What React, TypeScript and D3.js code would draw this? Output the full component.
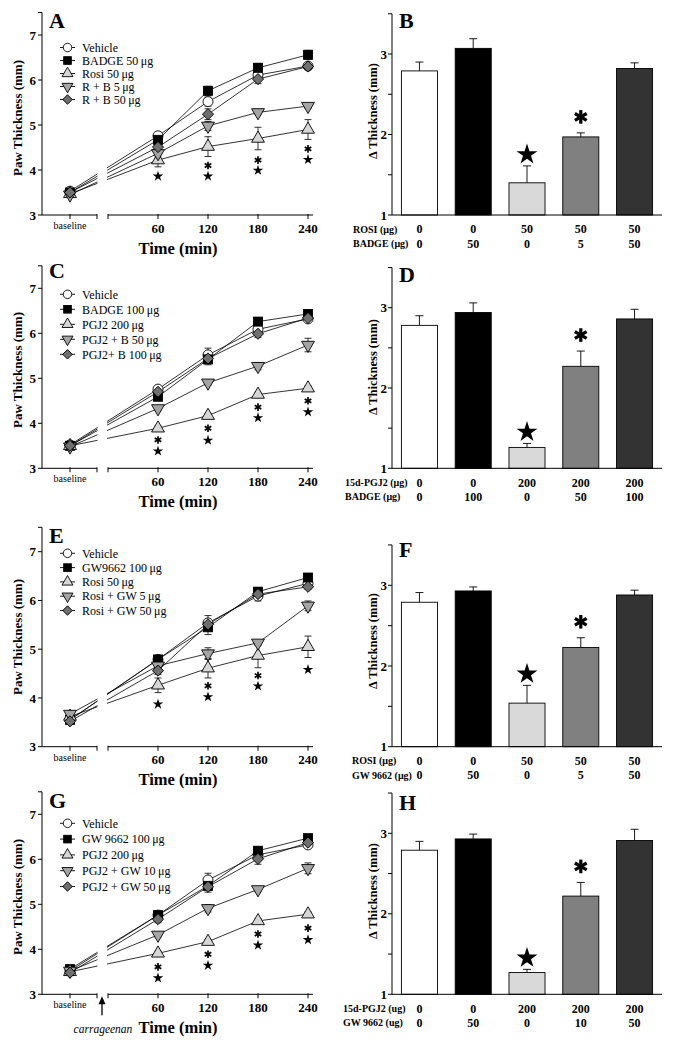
import React from 'react';
import * as d3 from 'd3';

const FONT = '"Liberation Serif", "Times New Roman", Times, serif';

// ---------- shared axes ----------
const timeTicks = [60, 120, 180, 240];
const lineYTicks = [3, 4, 5, 6, 7];
const barYTicks = [1, 2, 3];
const barMinorTicks = [1.5, 2.5, 3.5];

// ---------- Panel A ----------
const A_legend = ['Vehicle', 'BADGE 50\u2009μg', 'Rosi 50\u2009μg', 'R + B 5\u2009μg', 'R + B 50\u2009μg'];
const A_vehicle = [3.53, 4.76, 5.52, 6.11, 6.31];
const A_vehicleErr = [0.04, 0.05, 0.1, 0.1, 0.05];
const A_badge = [3.5, 4.67, 5.76, 6.27, 6.56];
const A_badgeErr = [0.04, 0.08, 0.1, 0.1, 0.1];
const A_rosi = [3.47, 4.22, 4.52, 4.7, 4.9];
const A_rosiErr = [0.04, 0.15, 0.22, 0.25, 0.22];
const A_rb5 = [3.45, 4.37, 4.98, 5.28, 5.42];
const A_rb5Err = [0.04, 0.08, 0.1, 0.05, 0.05];
const A_rb50 = [3.5, 4.51, 5.24, 6.02, 6.3];
const A_rb50Err = [0.04, 0.08, 0.12, 0.1, 0.05];
const A_asterisk = [null, 4.1, 4.22, 4.47];
const A_star = [3.87, 3.87, 4.0, 4.24];

// ---------- Panel C ----------
const C_legend = ['Vehicle', 'BADGE 100\u2009μg', 'PGJ2 200\u2009μg', 'PGJ2 + B 50\u2009μg', 'PGJ2+ B 100\u2009μg'];
const C_vehicle = [3.52, 4.76, 5.52, 6.09, 6.32];
const C_vehicleErr = [0.04, 0.05, 0.15, 0.1, 0.05];
const C_badge = [3.5, 4.59, 5.42, 6.26, 6.43];
const C_badgeErr = [0.04, 0.05, 0.12, 0.08, 0.05];
const C_pgj2 = [3.5, 3.89, 4.17, 4.64, 4.78];
const C_pgj2Err = [0.04, 0.05, 0.05, 0.05, 0.05];
const C_pb50 = [3.48, 4.33, 4.9, 5.27, 5.74];
const C_pb50Err = [0.04, 0.05, 0.05, 0.08, 0.15];
const C_pb100 = [3.5, 4.7, 5.44, 5.99, 6.34];
const C_pb100Err = [0.04, 0.05, 0.1, 0.08, 0.05];
const C_asterisk = [3.63, 3.89, 4.36, 4.5];
const C_star = [3.39, 3.63, 4.13, 4.26];

// ---------- Panel E ----------
const E_legend = ['Vehicle', 'GW9662 100\u2009μg', 'Rosi 50\u2009μg', 'Rosi + GW 5\u2009μg', 'Rosi + GW 50\u2009μg'];
const E_vehicle = [3.55, 4.79, 5.54, 6.09, 6.35];
const E_vehicleErr = [0.05, 0.05, 0.15, 0.1, 0.05];
const E_gw = [3.55, 4.79, 5.45, 6.18, 6.47];
const E_gwErr = [0.05, 0.05, 0.15, 0.08, 0.05];
const E_rosi = [3.62, 4.26, 4.61, 4.87, 5.05];
const E_rosiErr = [0.05, 0.15, 0.2, 0.25, 0.22];
const E_rg5 = [3.67, 4.66, 4.91, 5.13, 5.89];
const E_rg5Err = [0.05, 0.08, 0.12, 0.05, 0.1];
const E_rg50 = [3.52, 4.56, 5.51, 6.13, 6.28];
const E_rg50Err = [0.05, 0.08, 0.1, 0.1, 0.05];
const E_asterisk = [null, 4.25, 4.46, null];
const E_star = [3.88, 4.03, 4.25, 4.59];

// ---------- Panel G ----------
const G_legend = ['Vehicle', 'GW 9662  100\u2009μg', 'PGJ2  200\u2009μg', 'PGJ2 + GW  10\u2009μg', 'PGJ2 + GW 50\u2009μg'];
const G_vehicle = [3.52, 4.76, 5.54, 6.1, 6.32];
const G_vehicleErr = [0.05, 0.05, 0.15, 0.08, 0.05];
const G_gw = [3.56, 4.76, 5.41, 6.19, 6.47];
const G_gwErr = [0.05, 0.05, 0.1, 0.08, 0.05];
const G_pgj2 = [3.5, 3.91, 4.17, 4.63, 4.78];
const G_pgj2Err = [0.05, 0.05, 0.05, 0.05, 0.05];
const G_pg10 = [3.52, 4.32, 4.91, 5.33, 5.8];
const G_pg10Err = [0.05, 0.05, 0.08, 0.05, 0.12];
const G_pg50 = [3.48, 4.67, 5.39, 6.01, 6.37];
const G_pg50Err = [0.05, 0.08, 0.12, 0.12, 0.05];
const G_asterisk = [3.61, 3.89, 4.34, 4.47];
const G_star = [3.37, 3.65, 4.1, 4.22];

// ---------- Bar panels ----------
const barFills = ['#ffffff', '#000000', '#d9d9d9', '#808080', '#333333'];

const B_mean = [2.79, 3.07, 1.4, 1.97, 2.82];
const B_err = [0.11, 0.12, 0.21, 0.05, 0.07];
const B_row1 = ['0', '0', '50', '50', '50'];
const B_row2 = ['0', '50', '0', '5', '50'];

const D_mean = [2.78, 2.94, 1.26, 2.27, 2.86];
const D_err = [0.12, 0.12, 0.05, 0.19, 0.12];
const D_row1 = ['0', '0', '200', '200', '200'];
const D_row2 = ['0', '100', '0', '50', '100'];

const F_mean = [2.79, 2.93, 1.54, 2.23, 2.88];
const F_err = [0.12, 0.05, 0.22, 0.12, 0.06];
const F_row1 = ['0', '0', '50', '50', '50'];
const F_row2 = ['0', '50', '0', '5', '50'];

const H_mean = [2.79, 2.93, 1.27, 2.22, 2.91];
const H_err = [0.11, 0.06, 0.04, 0.17, 0.14];
const H_row1 = ['0', '0', '200', '200', '200'];
const H_row2 = ['0', '50', '0', '10', '50'];

// ---------- marker styles ----------
const kinds = ['circle', 'square', 'triUp', 'triDown', 'diamond'];
const kindFills = ['#ffffff', '#000000', '#d6d6d6', '#a4a4a4', '#6f6f6f'];

const triPath = d3.symbol(d3.symbolTriangle, 72)() as string;
const diaPath = d3.symbol(d3.symbolSquare, 62)() as string;

function Marker({ kind, cx, cy, fill, s = 1 }: any) {
  const sw = 0.9;
  const tr = `translate(${cx},${cy}) scale(${s})`;
  if (kind === 'circle') return <circle cx={cx} cy={cy} r={5 * s} fill={fill} stroke="#000" strokeWidth={sw} />;
  if (kind === 'square') return <rect x={cx - 4.5 * s} y={cy - 4.5 * s} width={9 * s} height={9 * s} fill={fill} stroke="#000" strokeWidth={sw} />;
  if (kind === 'triUp') return <path d={triPath} transform={tr} fill={fill} stroke="#000" strokeWidth={sw / s} />;
  if (kind === 'triDown') return <path d={triPath} transform={`${tr} rotate(180)`} fill={fill} stroke="#000" strokeWidth={sw / s} />;
  return <path d={diaPath} transform={`${tr} rotate(45)`} fill={fill} stroke="#000" strokeWidth={sw / s} />;
}

function Asterisk({ cx, cy, r, w }: any) {
  const angles = [90, 30, 150];
  return (
    <g>
      {angles.map((a) => {
        const rad = (a * Math.PI) / 180;
        const dx = Math.cos(rad) * r;
        const dy = Math.sin(rad) * r;
        return <line key={a} x1={cx - dx} y1={cy - dy} x2={cx + dx} y2={cy + dy} stroke="#000" strokeWidth={w} />;
      })}
    </g>
  );
}

function Star({ cx, cy, size }: any) {
  const p = d3.symbol(d3.symbolStar, size)() as string;
  return <path d={p} transform={`translate(${cx},${cy + size * 0.012})`} fill="#000" />;
}

function LinePanel({ cfg }: any) {
  const y = d3.scaleLinear().domain([3, 7]).range([cfg.y3, cfg.y7]);
  const x = d3.scaleLinear().domain([60, 240]).range([158, 308]);
  const xBase = 70;
  const axisX = 42;
  const xs = [xBase, ...timeTicks.map((t) => x(t))];
  const line = d3
    .line<number>()
    .x((_d, i) => xs[i])
    .y((d) => y(d));
  const top = y(7.5);
  const x0 = x(0);
  return (
    <g fontFamily={FONT}>
      {cfg.series.map((s: any, si: number) => (
        <path key={'l' + si} d={line(s.values) as string} fill="none" stroke="#000" strokeWidth={0.8} />
      ))}
      <rect x={97.5} y={top} width={x0 - 98.5} height={cfg.y3 - top - 1} fill="#fff" />
      {cfg.series.map((s: any, si: number) =>
        s.values.map((v: number, i: number) => {
          const e = s.errs[i];
          const cx = xs[i];
          return (
            <g key={'e' + si + '-' + i} stroke="#000" strokeWidth={0.8}>
              <line x1={cx} x2={cx} y1={y(v - e)} y2={y(v + e)} />
              <line x1={cx - 3.5} x2={cx + 3.5} y1={y(v + e)} y2={y(v + e)} />
              <line x1={cx - 3.5} x2={cx + 3.5} y1={y(v - e)} y2={y(v - e)} />
            </g>
          );
        })
      )}
      {cfg.series.map((s: any, si: number) =>
        s.values.map((v: number, i: number) => (
          <Marker key={'m' + si + '-' + i} kind={kinds[si]} cx={xs[i]} cy={y(v)} fill={kindFills[si]} />
        ))
      )}
      {timeTicks.map((t, i) => (
        <g key={'s' + t}>
          {cfg.asterisk[i] != null && <Asterisk cx={x(t)} cy={y(cfg.asterisk[i])} r={3.8} w={1.7} />}
          {cfg.star[i] != null && <Star cx={x(t)} cy={y(cfg.star[i])} size={34} />}
        </g>
      ))}
      <line x1={axisX} x2={axisX} y1={top} y2={cfg.y3} stroke="#000" strokeWidth={1} />
      {[...lineYTicks, 7.5].map((t) => (
        <line key={'yt' + t} x1={axisX - 4} x2={axisX} y1={y(t)} y2={y(t)} stroke="#000" strokeWidth={1} />
      ))}
      {lineYTicks.map((t) => (
        <text key={'yl' + t} x={axisX - 6} y={y(t)} dy="0.35em" textAnchor="end" fontSize={13} fontWeight="bold">
          {t}
        </text>
      ))}
      <line x1={axisX} x2={97} y1={cfg.y3} y2={cfg.y3} stroke="#000" strokeWidth={1} />
      <line x1={x0} x2={313} y1={cfg.y3} y2={cfg.y3} stroke="#000" strokeWidth={1} />
      {[xBase, 97, x0, ...timeTicks.map((t) => x(t))].map((tx, i) => (
        <line key={'xt' + i} x1={tx} x2={tx} y1={cfg.y3 - 1} y2={cfg.y3 + 4} stroke="#000" strokeWidth={1} />
      ))}
      <text x={xBase} y={cfg.y3 + 14} textAnchor="middle" fontSize={10}>
        baseline
      </text>
      {timeTicks.map((t) => (
        <text key={'xl' + t} x={x(t)} y={cfg.y3 + 17.5} textAnchor="middle" fontSize={13} fontWeight="bold">
          {t}
        </text>
      ))}
      <text x={178} y={cfg.y3 + 38.5} textAnchor="middle" fontSize={16.5} fontWeight="bold">
        Time (min)
      </text>
      <text transform={`translate(22,${cfg.yLabel}) rotate(-90)`} textAnchor="middle" fontSize={13} fontWeight="bold">
        Paw Thickness (mm)
      </text>
      <text x={49} y={cfg.letterY} fontSize={22} fontWeight="bold">
        {cfg.letter}
      </text>
      {cfg.legend.map((lab: string, i: number) => {
        const ly = cfg.legY0 + i * cfg.legDy;
        return (
          <g key={'lg' + i}>
            <line x1={60} x2={75} y1={ly} y2={ly} stroke="#000" strokeWidth={0.9} />
            <Marker kind={kinds[i]} cx={67.5} cy={ly} fill={kindFills[i]} s={0.85} />
            <text x={82} y={ly} dy="0.35em" fontSize={12}>
              {lab}
            </text>
          </g>
        );
      })}
      {cfg.arrow && (
        <g>
          <line x1={102} x2={102} y1={cfg.y3 + 21} y2={cfg.y3 + 8} stroke="#000" strokeWidth={1.3} />
          <path d={`M102,${cfg.y3 + 2} L98.5,${cfg.y3 + 10} L105.5,${cfg.y3 + 10} Z`} fill="#000" />
          <text x={103} y={cfg.y3 + 38.5} textAnchor="middle" fontSize={11.5} fontStyle="italic">
            carrageenan
          </text>
        </g>
      )}
    </g>
  );
}

function BarPanel({ cfg }: any) {
  const axisX = 392;
  const y = d3.scaleLinear().domain([1, 3]).range([cfg.y1, cfg.y3]);
  const xb = d3
    .scaleBand<number>()
    .domain(d3.range(cfg.means.length))
    .range([axisX, 662])
    .paddingInner(0.33)
    .paddingOuter(0.175);
  const bw = xb.bandwidth();
  const top = y(3.5);
  const c2 = (xb(2) as number) + bw / 2;
  const c3 = (xb(3) as number) + bw / 2;
  const t2 = y(cfg.means[2] + cfg.errs[2]);
  const t3 = y(cfg.means[3] + cfg.errs[3]);
  return (
    <g fontFamily={FONT}>
      {cfg.means.map((m: number, i: number) => {
        const bx = xb(i) as number;
        const cx = bx + bw / 2;
        const et = y(m + cfg.errs[i]);
        return (
          <g key={'b' + i}>
            <line x1={cx} x2={cx} y1={y(m)} y2={et} stroke="#000" strokeWidth={0.9} />
            <line x1={cx - 4} x2={cx + 4} y1={et} y2={et} stroke="#000" strokeWidth={0.9} />
            <rect x={bx} y={y(m)} width={bw} height={cfg.y1 - y(m)} fill={barFills[i]} stroke="#000" strokeWidth={0.9} />
          </g>
        );
      })}
      <Star cx={c2} cy={t2 - 13} size={135} />
      <Asterisk cx={c3} cy={t3 - 16} r={6.8} w={3.2} />
      <line x1={axisX} x2={axisX} y1={top} y2={cfg.y1} stroke="#000" strokeWidth={1} />
      <line x1={axisX} x2={662} y1={cfg.y1} y2={cfg.y1} stroke="#000" strokeWidth={1} />
      {[...barYTicks, ...barMinorTicks].map((t) => (
        <line key={'t' + t} x1={axisX - 4} x2={axisX} y1={y(t)} y2={y(t)} stroke="#000" strokeWidth={1} />
      ))}
      {barYTicks.map((t) => (
        <text key={'l' + t} x={axisX - 5} y={y(t)} dy="0.35em" textAnchor="end" fontSize={13} fontWeight="bold">
          {t}
        </text>
      ))}
      <text transform={`translate(377,${cfg.yLabel}) rotate(-90)`} textAnchor="middle" fontSize={12.5} fontWeight="bold">
        Δ Thickness (mm)
      </text>
      <text x={399} y={cfg.letterY} fontSize={22} fontWeight="bold">
        {cfg.letter}
      </text>
      <text x={cfg.labelX} y={cfg.y1 + 14} dy="0.35em" fontSize={10} fontWeight="bold">
        {cfg.row1Label}
      </text>
      <text x={cfg.labelX} y={cfg.y1 + 28.5} dy="0.35em" fontSize={10} fontWeight="bold">
        {cfg.row2Label}
      </text>
      {cfg.row1.map((v: string, i: number) => (
        <text key={'r1' + i} x={(xb(i) as number) + bw / 2} y={cfg.y1 + 14} dy="0.35em" textAnchor="middle" fontSize={12} fontWeight="bold">
          {v}
        </text>
      ))}
      {cfg.row2.map((v: string, i: number) => (
        <text key={'r2' + i} x={(xb(i) as number) + bw / 2} y={cfg.y1 + 28.5} dy="0.35em" textAnchor="middle" fontSize={12} fontWeight="bold">
          {v}
        </text>
      ))}
    </g>
  );
}

const mk = (vals: number[][], errs: number[][]) => vals.map((v, i) => ({ values: v, errs: errs[i] }));

const panelA = {
  letter: 'A', letterY: 28, y3: 215, y7: 35, yLabel: 118, legY0: 47.5, legDy: 13, legend: A_legend,
  series: mk([A_vehicle, A_badge, A_rosi, A_rb5, A_rb50], [A_vehicleErr, A_badgeErr, A_rosiErr, A_rb5Err, A_rb50Err]),
  asterisk: A_asterisk, star: A_star, arrow: false,
};
const panelC = {
  letter: 'C', letterY: 278, y3: 468.3, y7: 288.3, yLabel: 370, legY0: 294.3, legDy: 15, legend: C_legend,
  series: mk([C_vehicle, C_badge, C_pgj2, C_pb50, C_pb100], [C_vehicleErr, C_badgeErr, C_pgj2Err, C_pb50Err, C_pb100Err]),
  asterisk: C_asterisk, star: C_star, arrow: false,
};
const panelE = {
  letter: 'E', letterY: 543, y3: 746.7, y7: 551.7, yLabel: 637, legY0: 553.3, legDy: 14.3, legend: E_legend,
  series: mk([E_vehicle, E_gw, E_rosi, E_rg5, E_rg50], [E_vehicleErr, E_gwErr, E_rosiErr, E_rg5Err, E_rg50Err]),
  asterisk: E_asterisk, star: E_star, arrow: false,
};
const panelG = {
  letter: 'G', letterY: 808, y3: 994.3, y7: 814.3, yLabel: 897, legY0: 823.3, legDy: 15.8, legend: G_legend,
  series: mk([G_vehicle, G_gw, G_pgj2, G_pg10, G_pg50], [G_vehicleErr, G_gwErr, G_pgj2Err, G_pg10Err, G_pg50Err]),
  asterisk: G_asterisk, star: G_star, arrow: true,
};

const panelB = { letter: 'B', letterY: 28, y1: 215, y3: 54, yLabel: 111, means: B_mean, errs: B_err, labelX: 353, row1Label: 'ROSI (μg)', row2Label: 'BADGE (μg)', row1: B_row1, row2: B_row2 };
const panelD = { letter: 'D', letterY: 282, y1: 468.3, y3: 307.7, yLabel: 367, means: D_mean, errs: D_err, labelX: 345, row1Label: '15d-PGJ2 (μg)', row2Label: 'BADGE (μg)', row1: D_row1, row2: D_row2 };
const panelF = { letter: 'F', letterY: 557, y1: 746.7, y3: 585.3, yLabel: 641, means: F_mean, errs: F_err, labelX: 352, row1Label: 'ROSI (μg)', row2Label: 'GW 9662 (μg)', row1: F_row1, row2: F_row2 };
const panelH = { letter: 'H', letterY: 810, y1: 994.3, y3: 833.3, yLabel: 891, means: H_mean, errs: H_err, labelX: 343, row1Label: '15d-PGJ2 (ug)', row2Label: 'GW 9662 (ug)', row1: H_row1, row2: H_row2 };

export default function App() {
  return (
    <svg width={674} height={1050} style={{ position: 'absolute', left: 0, top: 0, background: '#fff' }}>
      <rect x={0} y={0} width={674} height={1050} fill="#fff" />
      <LinePanel cfg={panelA} />
      <LinePanel cfg={panelC} />
      <LinePanel cfg={panelE} />
      <LinePanel cfg={panelG} />
      <BarPanel cfg={panelB} />
      <BarPanel cfg={panelD} />
      <BarPanel cfg={panelF} />
      <BarPanel cfg={panelH} />
    </svg>
  );
}
